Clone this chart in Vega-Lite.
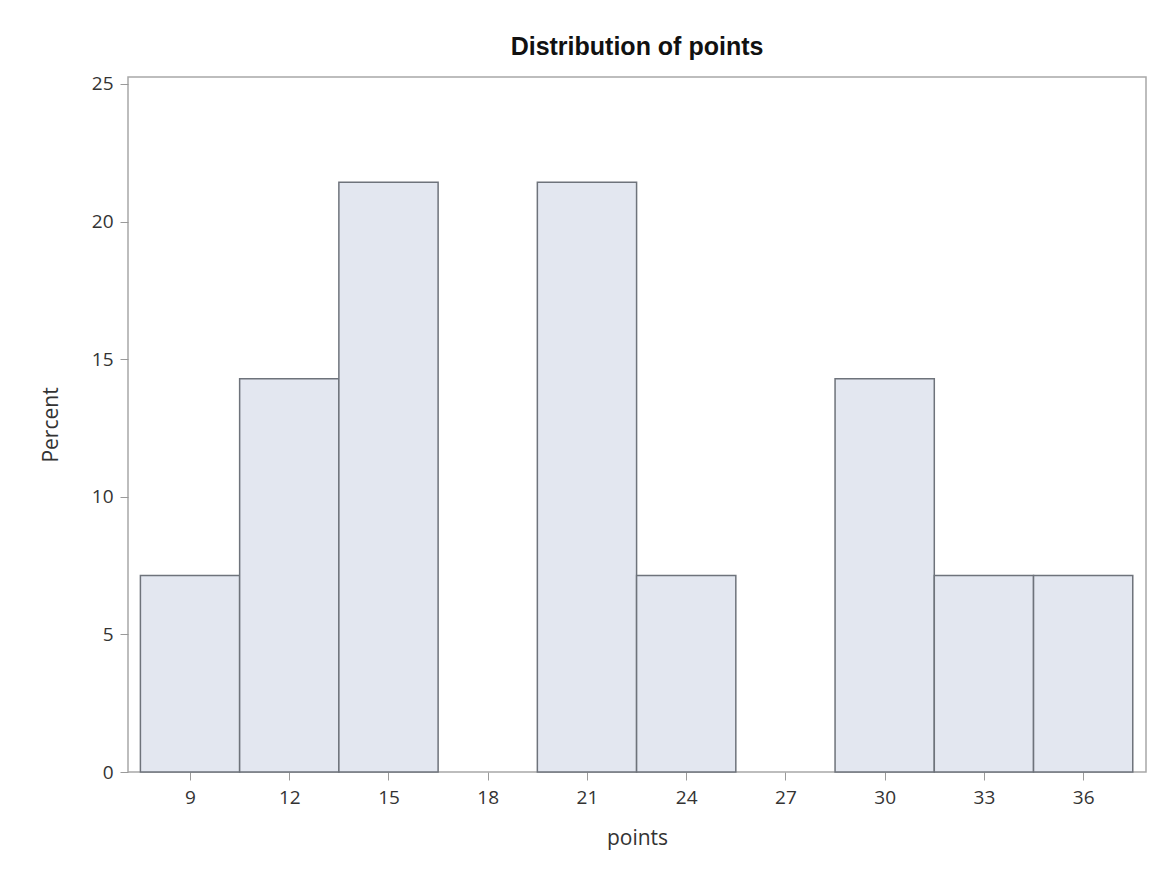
{
  "$schema": "https://vega.github.io/schema/vega-lite/v6.json",
  "width": 1018,
  "height": 695,
  "autosize": "none",
  "padding": {"left": 128, "top": 77, "right": 12, "bottom": 100},
  "background": "white",
  "title": {
    "text": "Distribution of points",
    "font": "Liberation Sans",
    "fontSize": 25,
    "fontWeight": "bold",
    "color": "#111111",
    "anchor": "middle",
    "offset": 15
  },
  "config": {
    "view": {"stroke": "#a8a8a8", "strokeWidth": 1.5},
    "axis": {
      "labelFont": "Open Sans",
      "titleFont": "Open Sans",
      "labelFontSize": 19,
      "titleFontSize": 21,
      "labelColor": "#333333",
      "titleColor": "#333333",
      "titleFontWeight": "normal",
      "tickColor": "#9a9a9a",
      "domainColor": "#a8a8a8",
      "tickSize": 8,
      "grid": false
    }
  },
  "data": {
    "values": [
      {"bin_start": 7.5, "bin_end": 10.5, "percent": 7.142857},
      {"bin_start": 10.5, "bin_end": 13.5, "percent": 14.285714},
      {"bin_start": 13.5, "bin_end": 16.5, "percent": 21.428571},
      {"bin_start": 19.5, "bin_end": 22.5, "percent": 21.428571},
      {"bin_start": 22.5, "bin_end": 25.5, "percent": 7.142857},
      {"bin_start": 28.5, "bin_end": 31.5, "percent": 14.285714},
      {"bin_start": 31.5, "bin_end": 34.5, "percent": 7.142857},
      {"bin_start": 34.5, "bin_end": 37.5, "percent": 7.142857}
    ]
  },
  "mark": {"type": "rect", "fill": "#e3e7f0", "stroke": "#6e737b", "strokeWidth": 1.5},
  "encoding": {
    "x": {
      "field": "bin_start",
      "type": "quantitative",
      "scale": {"domain": [7.125, 37.9], "nice": false, "zero": false},
      "axis": {"values": [9, 12, 15, 18, 21, 24, 27, 30, 33, 36], "title": "points", "titlePadding": 20, "labelPadding": 8, "domain": false}
    },
    "x2": {"field": "bin_end"},
    "y": {
      "field": "percent",
      "type": "quantitative",
      "scale": {"domain": [0, 25.25], "nice": false},
      "axis": {"values": [0, 5, 10, 15, 20, 25], "title": "Percent", "titlePadding": 30, "labelPadding": 7, "domain": false}
    },
    "y2": {"datum": 0}
  }
}
